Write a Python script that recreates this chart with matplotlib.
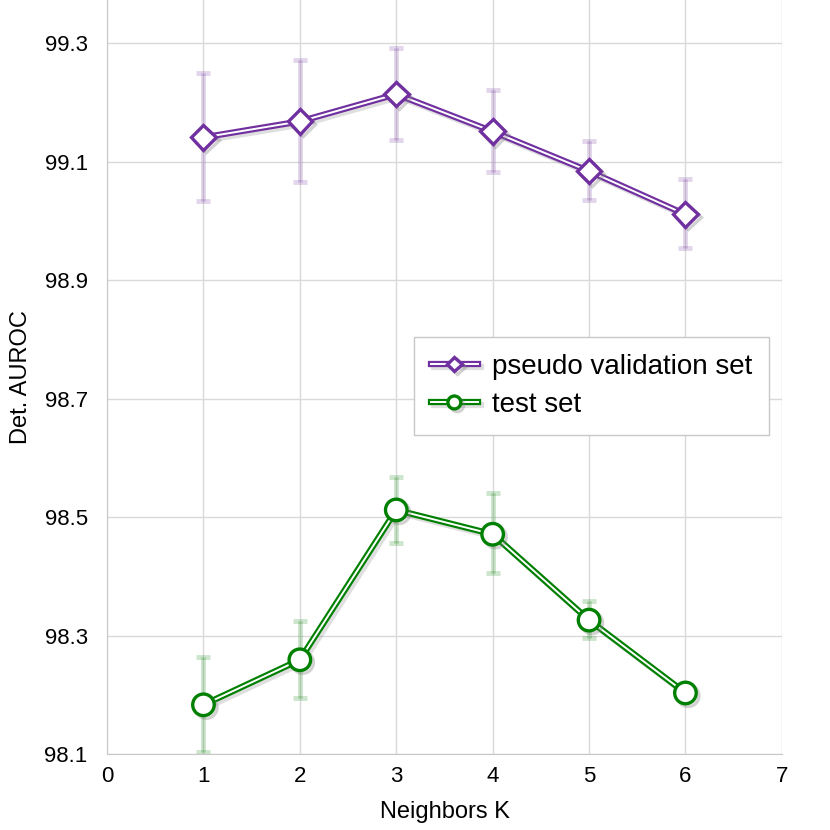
import matplotlib
matplotlib.use('Agg')
import matplotlib.pyplot as plt
import matplotlib.patheffects as pe
import numpy as np

# values
k = [1, 2, 3, 4, 5, 6]
val_mean = [99.141, 99.168, 99.214, 99.151, 99.084, 99.011]
val_lo = [99.033, 99.065, 99.136, 99.082, 99.035, 98.954]
val_hi = [99.249, 99.271, 99.292, 99.221, 99.135, 99.070]
test_mean = [98.183, 98.259, 98.512, 98.471, 98.326, 98.203]
test_lo = [98.103, 98.195, 98.456, 98.405, 98.296, 98.195]
test_hi = [98.264, 98.324, 98.567, 98.540, 98.358, 98.210]

plt.rcParams['font.family'] = ['Liberation Sans', 'DejaVu Sans']

purple = '#7030A0'
green = '#008000'

fig = plt.figure(figsize=(8.3, 8.3), dpi=100)
ax = fig.add_axes([0.129, 0.0916, 0.813, 0.9084])

shadow = [pe.SimpleLineShadow(offset=(2, -2), alpha=0.35, shadow_color='gray'), pe.Normal()]


def draw(mean, lo, hi, color, marker, ms, label):
    mean = np.array(mean)
    yerr = [mean - np.array(lo), np.array(hi) - mean]
    ax.errorbar(k, mean, yerr=yerr, fmt='none', ecolor=color, alpha=0.2,
                elinewidth=3.5, capsize=5, capthick=3.5, zorder=2)
    outer, = ax.plot(k, mean, color=color, lw=4.5, zorder=3,
                     path_effects=[pe.SimpleLineShadow(offset=(2, -2), alpha=0.25, shadow_color='gray'), pe.Normal()])
    inner, = ax.plot(k, mean, color='white', lw=1.4, zorder=4)
    mk, = ax.plot(k, mean, ls='none', marker=marker, ms=ms, mfc='white',
                  mec=color, mew=2.4, zorder=5, path_effects=shadow)
    return (outer, inner, mk), label


h1 = draw(val_mean, val_lo, val_hi, purple, 'D', 12.5, 'pseudo validation set')
h2 = draw(test_mean, test_lo, test_hi, green, 'o', 15.5, 'test set')

ax.set_xlim(0, 7)
ax.set_ylim(98.1, 99.373)
ax.set_xticks(range(0, 8))
ax.set_yticks([98.1, 98.3, 98.5, 98.7, 98.9, 99.1, 99.3])
ax.set_yticklabels(['98.1', '98.3', '98.5', '98.7', '98.9', '99.1', '99.3'])
ax.tick_params(length=0, labelsize=16)
ax.tick_params(axis='y', pad=14)
ax.tick_params(axis='x', pad=9)
ax.grid(True, color='#d9d9d9', lw=1)
ax.set_axisbelow(True)
for s in ['top', 'right']:
    ax.spines[s].set_visible(False)
for s in ['left', 'bottom']:
    ax.spines[s].set_color('#c8c8c8')

ax.set_xlabel('Neighbors K', fontsize=17, labelpad=10)
ax.set_ylabel('Det. AUROC', fontsize=17, labelpad=9)

leg = ax.legend([h1[0], h2[0]], [h1[1], h2[1]], loc='upper left',
                bbox_to_anchor=(0.455, 0.553), borderaxespad=0, fontsize=20,
                fancybox=False, markerscale=0.6, handlelength=1.7,
                handletextpad=0.5, framealpha=1, edgecolor='#c8c8c8',
                borderpad=0.6, labelspacing=0.45)

fig.savefig('out.png', dpi=100)
